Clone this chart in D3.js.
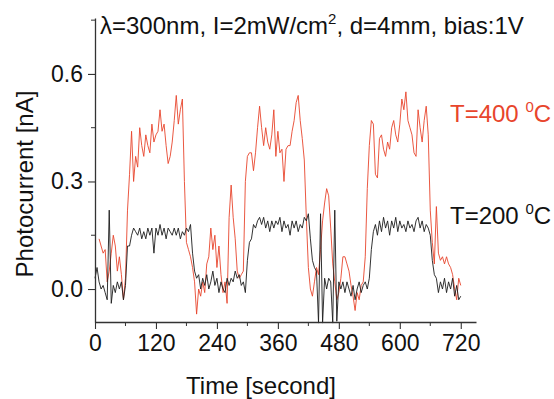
<!DOCTYPE html>
<html>
<head>
<meta charset="utf-8">
<script src="https://cdn.jsdelivr.net/npm/d3@7"></script>
<style>
  body { margin: 0; background: #fff; }
  text { font-family: "Liberation Sans", Arial, sans-serif; fill: #111; }
</style>
</head>
<body>
<div id="chart"></div>
<script>
// sampling grid (seconds) for each trace, 4 s apart
const time200 = d3.range(0, 721, 4);
const time400 = d3.range(8, 721, 4);

// T = 200 C photocurrent [nA]
const current200 = [
  0.03, 0.06, 0.02, 0.00, 0.01, -0.01, -0.03, 0.22, -0.04, 0.01,
  -0.01, 0.02, 0.00, 0.02, -0.03, 0.01, 0.12, 0.12, 0.15, 0.17,
  0.16, 0.15, 0.17, 0.14, 0.16, 0.14, 0.17, 0.15, 0.17, 0.10,
  0.17, 0.15, 0.18, 0.15, 0.17, 0.14, 0.17, 0.16, 0.15, 0.17,
  0.15, 0.17, 0.14, 0.16, 0.15, 0.17, 0.16, 0.18, 0.10, 0.05,
  0.03, 0.04, 0.00, 0.03, 0.01, 0.04, 0.00, 0.02, 0.05, 0.01,
  0.03, -0.01, 0.02, 0.00, -0.01, 0.03, 0.01, 0.03, 0.02, 0.05,
  0.03, 0.04, 0.01, 0.02, -0.01, 0.08, 0.13, 0.14, 0.18, 0.17,
  0.19, 0.20, 0.18, 0.20, 0.17, 0.19, 0.16, 0.19, 0.17, 0.19,
  0.18, 0.20, 0.16, 0.19, 0.17, 0.18, 0.15, 0.19, 0.17, 0.19,
  0.16, 0.18, 0.17, 0.20, 0.19, 0.21, 0.14, 0.08, 0.06, 0.05,
  -0.095, 0.21, -0.095, 0.03, 0.00, 0.03, 0.02, -0.095, 0.22, -0.09,
  0.02, 0.00, 0.02, -0.01, 0.02, 0.00, -0.02, 0.01, -0.03, 0.00,
  0.02, -0.01, 0.01, 0.02, 0.00, 0.03, 0.11, 0.16, 0.18, 0.15,
  0.19, 0.16, 0.20, 0.17, 0.19, 0.15, 0.19, 0.17, 0.20, 0.16,
  0.19, 0.17, 0.18, 0.16, 0.19, 0.17, 0.18, 0.16, 0.19, 0.20,
  0.17, 0.19, 0.16, 0.18, 0.17, 0.15, 0.08, 0.04, 0.03, -0.01,
  0.02, 0.00, 0.03, -0.01, 0.02, 0.00, 0.03, -0.02, 0.01, -0.03,
  -0.02
];

// T = 400 C photocurrent [nA]
const current400 = [
  0.14, 0.12, 0.10, 0.11, 0.02, 0.05, 0.10, 0.15, 0.12, 0.05,
  0.09, 0.04, -0.03, 0.03, 0.22, 0.32, 0.44, 0.30, 0.37, 0.34,
  0.45, 0.40, 0.37, 0.43, 0.40, 0.38, 0.46, 0.41, 0.43, 0.44,
  0.50, 0.44, 0.46, 0.40, 0.35, 0.37, 0.41, 0.47, 0.54, 0.46,
  0.50, 0.53, 0.30, 0.13, 0.11, 0.09, 0.06, 0.02, -0.07, 0.00,
  -0.02, 0.02, -0.01, 0.07, 0.09, 0.17, 0.11, 0.15, 0.06, 0.12,
  0.04, -0.01, 0.02, -0.04, 0.20, 0.29, 0.20, 0.14, 0.05, 0.03,
  0.04, 0.05, 0.30, 0.37, 0.38, 0.38, 0.33, 0.38, 0.45, 0.51,
  0.45, 0.40, 0.45, 0.41, 0.39, 0.43, 0.50, 0.37, 0.44, 0.38,
  0.39, 0.30, 0.39, 0.40, 0.40, 0.44, 0.47, 0.52, 0.54, 0.47,
  0.42, 0.36, 0.20, 0.06, 0.00, -0.02, 0.02, 0.06, 0.04, 0.11,
  0.19, 0.24, 0.28, 0.26, 0.17, 0.07, 0.02, -0.03, -0.01, 0.03,
  0.09, 0.09, 0.07, 0.05, 0.01, -0.02, -0.06, -0.01, -0.03, 0.01,
  0.02, 0.09, 0.28, 0.40, 0.47, 0.46, 0.32, 0.31, 0.42, 0.43,
  0.39, 0.37, 0.41, 0.39, 0.45, 0.47, 0.43, 0.41, 0.46, 0.53,
  0.50, 0.55, 0.47, 0.45, 0.43, 0.38, 0.37, 0.50, 0.45, 0.41,
  0.47, 0.51, 0.43, 0.22, 0.13, 0.07, 0.23, 0.10, 0.08, 0.09,
  0.07, 0.09, 0.07, 0.06, 0.04, 0.00, -0.03, 0.03, 0.01
];

const xMajor = [0, 120, 240, 360, 480, 600, 720];
const xMinor = [60, 180, 300, 420, 540, 660];
const yMajor = [0.0, 0.3, 0.6];
const yMinor = [0.15, 0.45, 0.75];

const width = 554, height = 399;
const margin = { top: 18, right: 78, bottom: 77, left: 95 };

const svg = d3.select('#chart').append('svg')
  .attr('width', width)
  .attr('height', height);

svg.append('rect').attr('width', width).attr('height', height).attr('fill', '#fff');

const x = d3.scaleLinear().domain([0, 750]).range([margin.left, width - margin.right]);
const y = d3.scaleLinear().domain([-0.092, 0.756]).range([height - margin.bottom, margin.top]);

// traces
const line = d3.line().x(d => x(d[0])).y(d => y(d[1]));

svg.append('path')
  .datum(d3.zip(time400, current400))
  .attr('fill', 'none')
  .attr('stroke', '#e8452c')
  .attr('stroke-width', 0.9)
  .attr('d', line);

svg.append('path')
  .datum(d3.zip(time200, current200))
  .attr('fill', 'none')
  .attr('stroke', '#1c1c1c')
  .attr('stroke-width', 0.9)
  .attr('d', line);

// axes
const axisColor = '#333';
const xAxis = svg.append('g')
  .attr('transform', `translate(0, ${y.range()[0]})`)
  .call(d3.axisBottom(x).tickValues(xMajor).tickSize(7).tickSizeOuter(0).tickFormat(d3.format('d')));
xAxis.append('g').selectAll('line').data(xMinor).join('line')
  .attr('x1', d => x(d)).attr('x2', d => x(d)).attr('y1', 0).attr('y2', 4)
  .attr('stroke', axisColor);

const yAxis = svg.append('g')
  .attr('transform', `translate(${x.range()[0]}, 0)`)
  .call(d3.axisLeft(y).tickValues(yMajor).tickSize(7).tickSizeOuter(0).tickFormat(d3.format('.1f')));
yAxis.append('g').selectAll('line').data(yMinor).join('line')
  .attr('y1', d => y(d)).attr('y2', d => y(d)).attr('x1', 0).attr('x2', -4)
  .attr('stroke', axisColor);

svg.selectAll('.domain').attr('stroke', axisColor).attr('stroke-width', 1.3);
svg.selectAll('.tick line').attr('stroke', axisColor).attr('stroke-width', 1.1);
svg.selectAll('.tick text').attr('font-size', 23).attr('font-family', '"Liberation Sans", Arial, sans-serif').attr('fill', '#111');
xAxis.selectAll('.tick text').attr('dy', '0.95em').attr('y', 7);
yAxis.selectAll('.tick text').attr('x', -12);

// axis titles
svg.append('text')
  .attr('x', 261).attr('y', 394)
  .attr('text-anchor', 'middle')
  .attr('font-size', 24)
  .text('Time [second]');

svg.append('text')
  .attr('transform', 'translate(33, 184) rotate(-90)')
  .attr('text-anchor', 'middle')
  .attr('font-size', 24)
  .text('Photocurrent [nA]');

// conditions
const title = svg.append('text').attr('x', 100).attr('y', 34).attr('font-size', 24);
title.append('tspan').text('λ=300nm, I=2mW/cm');
title.append('tspan').attr('font-size', 15).attr('dy', -10).text('2');
title.append('tspan').attr('dy', 10).text(', d=4mm, bias:1V');

// series labels
function seriesLabel(t, yPos, color) {
  const g = svg.append('text').attr('x', 450).attr('y', yPos).attr('font-size', 24).attr('fill', color).style('fill', color);
  g.append('tspan').text(`T=${t} `);
  g.append('tspan').attr('font-size', 15).attr('dy', -10).text('0');
  g.append('tspan').attr('dy', 10).text('C');
}
seriesLabel(400, 122, '#e8452c');
seriesLabel(200, 224, '#111');
</script>
</body>
</html>
